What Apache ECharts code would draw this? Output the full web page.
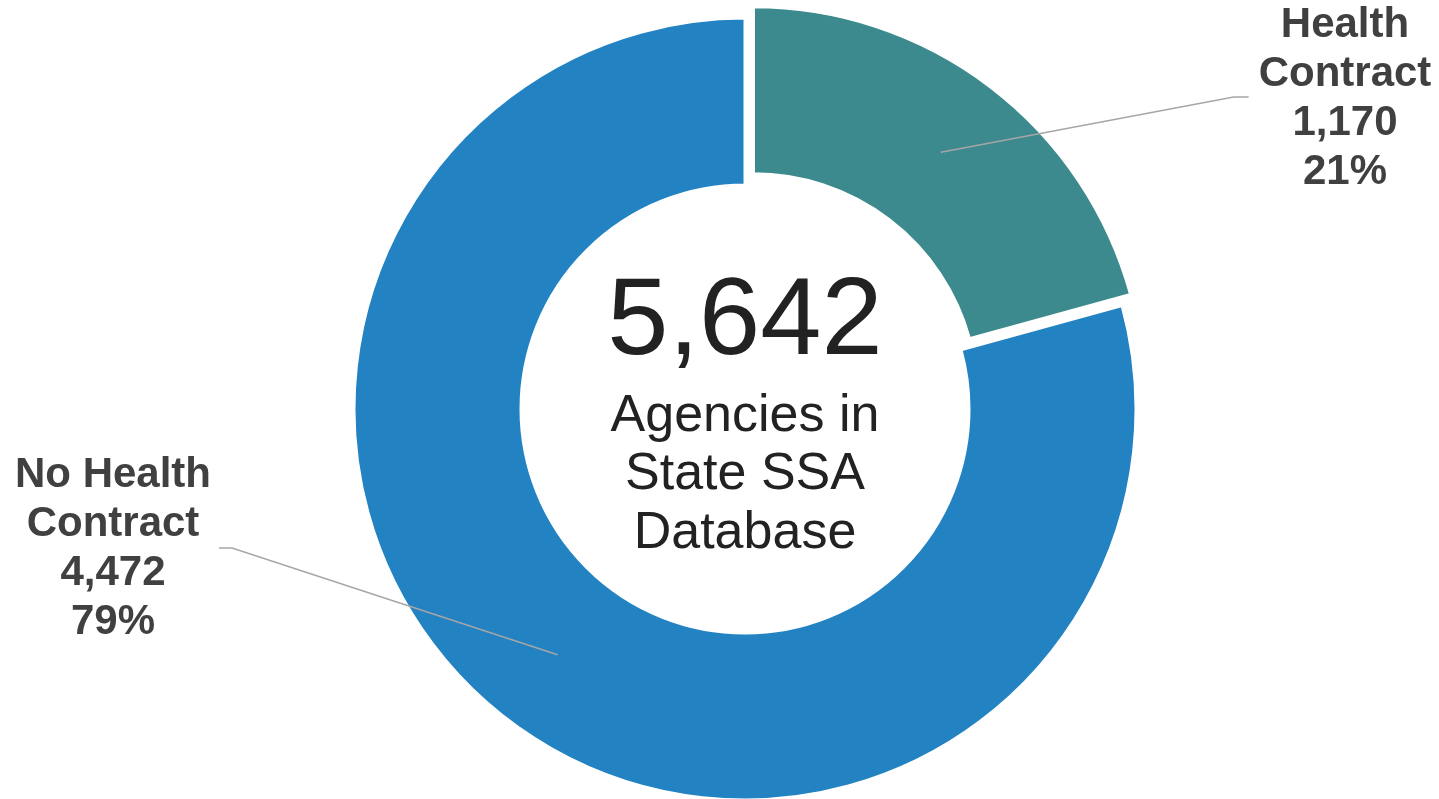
<!DOCTYPE html>
<html>
<head>
<meta charset="utf-8">
<script src="https://cdn.jsdelivr.net/npm/echarts@6/dist/echarts.min.js"></script>
<style>
  html, body { margin: 0; padding: 0; background: #ffffff; }
  #chart { width: 1439px; height: 799px; }
</style>
</head>
<body>
<div id="chart"></div>
<script>
const categories = ['Health Contract', 'No Health Contract'];
const labelNames = ['Health\nContract', 'No Health\nContract'];
const values = [1170, 4472];
const colors = ['#3C8A8D', '#2383C2'];
const centerCaption = 'Agencies in\nState SSA\nDatabase';

const total = values.reduce((a, b) => a + b, 0);
const fmt = v => v.toLocaleString('en-US');

const chart = echarts.init(document.getElementById('chart'));
const W = chart.getWidth();
const CX = 745, CY = 409;
const R_IN = 224, R_OUT = 391;
const OFFSET = 14;
const FONT = '"Liberation Sans", Arial, sans-serif';

const ringData = categories.map((name, i) => ({
  name: name,
  value: values[i],
  selected: i === 0,
  itemStyle: { color: colors[i] }
}));

const labelData = categories.map((name, i) => ({
  name: name,
  value: values[i]
}));

chart.setOption({
  animation: false,
  backgroundColor: '#ffffff',
  graphic: [
    {
      type: 'text',
      silent: true,
      style: {
        text: fmt(total),
        x: CX, y: 324,
        align: 'center', verticalAlign: 'middle',
        fontSize: 110, fontFamily: FONT,
        fill: '#222222'
      }
    },
    {
      type: 'text',
      silent: true,
      style: {
        text: centerCaption,
        x: CX, y: 475,
        align: 'center', verticalAlign: 'middle',
        fontSize: 52, lineHeight: 58.5,
        fontFamily: FONT,
        fill: '#222222'
      }
    }
  ],
  series: [
    {
      type: 'pie',
      z: 2,
      center: [CX, CY],
      radius: [R_IN, R_OUT],
      startAngle: 90,
      clockwise: true,
      selectedMode: 'single',
      selectedOffset: OFFSET,
      emphasis: { disabled: true },
      silent: true,
      itemStyle: { borderColor: '#ffffff', borderWidth: 3 },
      label: { show: false },
      labelLine: { show: false },
      data: ringData
    },
    {
      type: 'pie',
      z: 10,
      center: [CX, CY],
      radius: [R_IN, R_OUT],
      startAngle: 90,
      clockwise: true,
      selectedMode: false,
      silent: true,
      emphasis: { disabled: true },
      avoidLabelOverlap: false,
      itemStyle: { color: 'rgba(0,0,0,0)', borderWidth: 0 },
      label: {
        show: true,
        position: 'outside',
        align: 'center',
        fontSize: 42,
        fontWeight: 'bold',
        lineHeight: 49,
        color: '#404040',
        fontFamily: FONT,
        formatter: p => labelNames[p.dataIndex] + '\n' + fmt(p.value) + '\n' + Math.round(p.percent) + '%'
      },
      labelLine: {
        show: true,
        length: 20,
        length2: 10,
        smooth: false,
        lineStyle: { color: '#A6A6A6', width: 1.5 }
      },
      labelLayout: function (params) {
        const pts = params.labelLinePoints;
        const w = params.labelRect.width;
        let p0 = [CX, CY];
        if (pts) {
          const dx = pts[0][0] - pts[1][0], dy = pts[0][1] - pts[1][1];
          const len = Math.sqrt(dx * dx + dy * dy) || 1;
          const inward = 82 - (params.dataIndex === 0 ? OFFSET : 0);
          p0 = [pts[0][0] + dx / len * inward, pts[0][1] + dy / len * inward];
        }
        if (params.dataIndex === 0) {
          const x = W - 94, y = 99;
          const left = x - w / 2;
          return {
            x: x, y: y, align: 'center', verticalAlign: 'middle',
            labelLinePoints: [p0, [left - 25, y - 2], [left - 10, y - 2]]
          };
        } else {
          const x = 113, y = 549;
          const right = x + w / 2;
          return {
            x: x, y: y, align: 'center', verticalAlign: 'middle',
            labelLinePoints: [p0, [right + 21, y - 1], [right + 8, y - 1]]
          };
        }
      },
      data: labelData
    }
  ]
});
</script>
</body>
</html>
